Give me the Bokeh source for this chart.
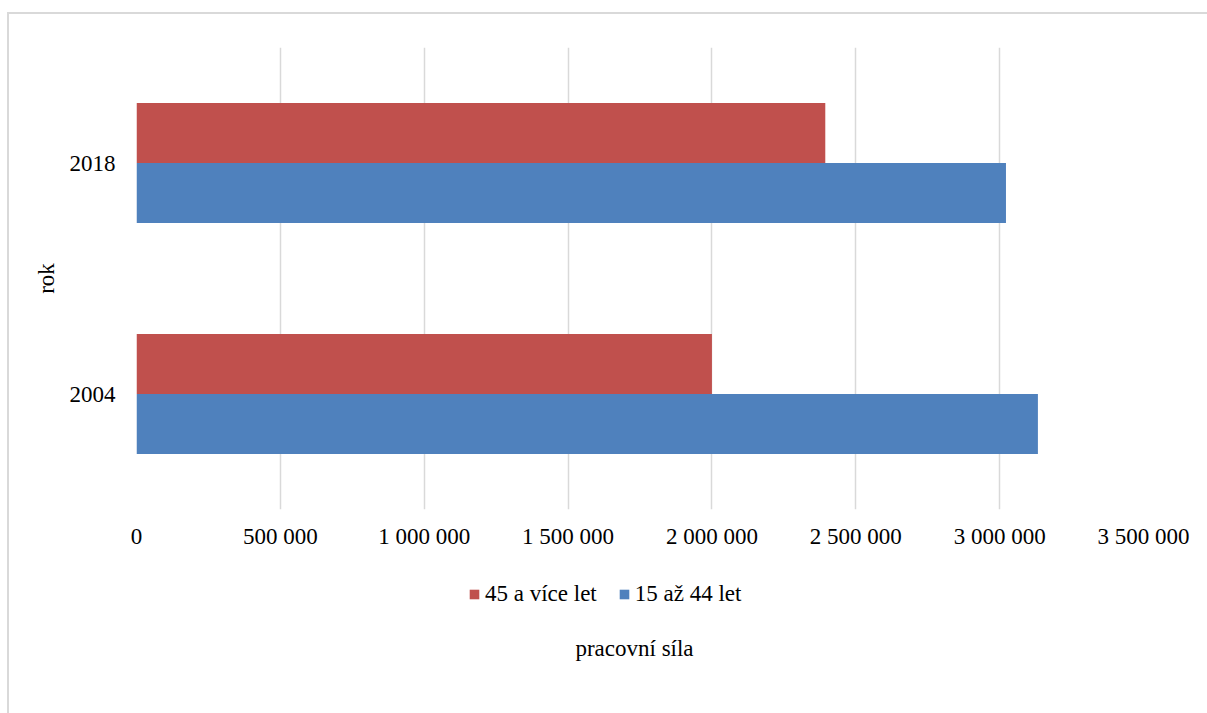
from bokeh.plotting import figure
from bokeh.layouts import column
from bokeh.models import (FactorRange, Range1d, FixedTicker, Legend, LegendItem,
                          Label, ColumnDataSource)
from bokeh.transform import dodge
from bokeh.embed import file_html
from bokeh.resources import INLINE

# Labour force by age group, two survey years
years = ["2004", "2018"]
older = [2000000, 2394000]      # 45 a více let
younger = [3133000, 3022000]    # 15 až 44 let
series_names = ["45 a více let", "15 až 44 let"]
series_colors = ["#C0504D", "#4F81BD"]

x_ticks = [0, 500000, 1000000, 1500000, 2000000, 2500000, 3000000, 3500000]
x_tick_labels = ["0", "500 000", "1 000 000", "1 500 000", "2 000 000",
                 "2 500 000", "3 000 000", "3 500 000"]
x_title = "pracovní síla"
y_title = "rok"

FONT = "Liberation Serif"
FS = "23px"

src = ColumnDataSource(dict(year=years, older=older, younger=younger))

# ---- main bar chart -------------------------------------------------------
p = figure(width=1198, height=560, output_backend="svg", toolbar_location=None,
           y_range=FactorRange(factors=years), x_range=Range1d(0, 3500000),
           min_border_left=127, min_border_right=64,
           min_border_top=33, min_border_bottom=65)
p.outline_line_color = None
p.background_fill_color = "white"
p.border_fill_color = "white"

p.hbar(y=dodge("year", 0.13, range=p.y_range), right="older", left=0,
       height=0.26, source=src, color=series_colors[0], line_color=None)
p.hbar(y=dodge("year", -0.13, range=p.y_range), right="younger", left=0,
       height=0.26, source=src, color=series_colors[1], line_color=None)

xa = p.xaxis[0]
xa.ticker = FixedTicker(ticks=x_ticks)
xa.major_label_overrides = {t: s for t, s in zip(x_ticks, x_tick_labels)}
xa.axis_line_color = None
xa.major_tick_line_color = None
xa.minor_tick_line_color = None
xa.major_tick_out = 0
xa.major_tick_in = 0
xa.major_label_standoff = 14
xa.major_label_text_font = FONT
xa.major_label_text_font_size = FS
xa.major_label_text_color = "black"

ya = p.yaxis[0]
ya.axis_label = y_title
ya.axis_label_text_font = FONT
ya.axis_label_text_font_size = FS
ya.axis_label_text_font_style = "normal"
ya.axis_label_text_color = "black"
ya.axis_label_standoff = 8
ya.axis_line_color = None
ya.major_tick_line_color = None
ya.minor_tick_line_color = None
ya.major_tick_out = 0
ya.major_tick_in = 0
ya.major_label_standoff = 21
ya.major_label_text_font = FONT
ya.major_label_text_font_size = FS
ya.major_label_text_color = "black"

p.xgrid.grid_line_color = "#d9d9d9"
p.xgrid.grid_line_width = 1.5
p.ygrid.grid_line_color = None

# ---- strip below: legend and value-axis title ------------------------------
# its frame lines up with the chart frame above, ranges are in pixels
FW, H2 = 1007, 139
q = figure(width=1198, height=H2, output_backend="svg", toolbar_location=None,
           x_range=Range1d(0, FW), y_range=Range1d(0, H2),
           min_border=0, x_axis_type=None, y_axis_type=None)
q.outline_line_color = None
q.xgrid.grid_line_color = None
q.ygrid.grid_line_color = None

# zero-size keys that only feed the legend swatches
key = ColumnDataSource(dict(y=[0], left=[0], right=[0]))
k_old = q.hbar(y="y", left="left", right="right", height=0, source=key,
               color=series_colors[0], line_color=None)
k_young = q.hbar(y="y", left="left", right="right", height=0, source=key,
                 color=series_colors[1], line_color=None)

legend = Legend(items=[LegendItem(label=series_names[0], renderers=[k_old]),
                       LegendItem(label=series_names[1], renderers=[k_young])],
                orientation="horizontal", location=(332, 106),
                glyph_width=12, glyph_height=12, label_standoff=5, spacing=21,
                padding=0, margin=0, border_line_color=None,
                background_fill_alpha=0,
                label_text_font=FONT, label_text_font_size=FS,
                label_text_color="black")
q.add_layout(legend, "center")

q.add_layout(Label(text=x_title, x=498, y=65, text_align="center",
                   text_baseline="middle", text_font=FONT, text_font_size=FS,
                   text_color="black"))

# grey chart-area frame along the top and left
page = column(p, q, spacing=0, margin=(12, 0, 0, 7),
              styles={"border-top": "2px solid #d9d9d9",
                      "border-left": "2px solid #d9d9d9"})

open("out.html", "w").write(file_html(page, INLINE))
